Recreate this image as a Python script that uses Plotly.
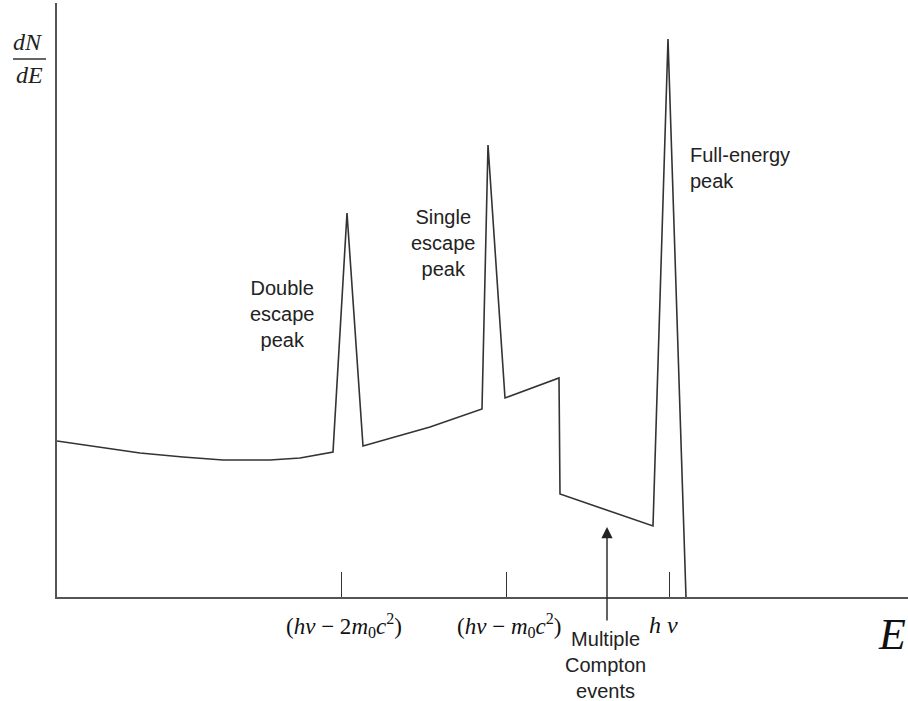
import plotly.graph_objects as go

W, H = 908, 701

# Spectrum (energy in arbitrary units, counts in arbitrary units)
energy = [0, 43, 83, 126, 166, 213, 243, 276, 290, 306, 373, 425, 431, 448, 502, 503, 596, 611, 629]
counts = [156, 150, 144, 140, 137, 137, 139, 145, 384, 151, 170, 188, 452, 199, 219, 103, 71, 558, 0]

# Marked energies on the axis
tick_energy = [284, 449, 612]
tick_labels = [
    "(<i>hν</i> − 2<i>m</i><sub>0</sub><i>c</i><sup>2</sup>)",
    "(<i>hν</i> − <i>m</i><sub>0</sub><i>c</i><sup>2</sup>)",
    "<i>h ν</i>",
]
compton_energy = 550

# peak labels
peak_labels = ["Double<br>escape<br>peak", "Single<br>escape<br>peak", "Full-energy<br>peak"]

X0, XEND = 57, 908     # pixel x of axis origin, right end
Y0, YTOP = 597, 3      # pixel y of axis origin, top end
xr = [0, XEND - X0]
yr = [0, Y0 - YTOP]

def px(x):
    return x / W
def py(y):
    return 1 - y / H

fig = go.Figure()
fig.add_trace(go.Scatter(x=energy, y=counts, mode="lines",
                         line=dict(color="#333333", width=1.6),
                         hoverinfo="skip", showlegend=False, cliponaxis=False))

fig.update_layout(
    width=W, height=H,
    margin=dict(l=0, r=0, t=0, b=0),
    paper_bgcolor="white", plot_bgcolor="white",
    xaxis=dict(domain=[X0 / W, 1], range=xr, showgrid=False, zeroline=False,
               showline=True, linecolor="#555555", linewidth=1.5,
               ticks="inside", ticklen=25, tickwidth=1.3, tickcolor="#333333",
               tickvals=tick_energy, showticklabels=False),
    yaxis=dict(domain=[1 - Y0 / H, 1 - YTOP / H], range=yr, showgrid=False, zeroline=False,
               showline=True, linecolor="#555555", linewidth=1.5,
               showticklabels=False, ticks=""),
)

serif = "Liberation Serif, Times New Roman, serif"
sans = "Liberation Sans, Arial, sans-serif"

ann = []
# tick labels
label_px = [(344, 625, 23), (509, 625, 23), (663, 625, 24)]
for (lx, ly, fs), t in zip(label_px, tick_labels):
    ann.append(dict(x=px(lx), y=py(ly), xref="paper", yref="paper", text=t, showarrow=False,
                    font=dict(family=serif, size=fs, color="#111111"),
                    xanchor="center", yanchor="middle"))

# E label
ann.append(dict(x=px(892), y=py(634), xref="paper", yref="paper", text="<i>E</i>", showarrow=False,
                font=dict(family=serif, size=44, color="#111111"), xanchor="center", yanchor="middle"))

# dN/dE
ann.append(dict(x=px(28), y=py(42), xref="paper", yref="paper", text="<i>dN</i>", showarrow=False,
                font=dict(family=serif, size=24, color="#222222"), xanchor="center", yanchor="middle"))
ann.append(dict(x=px(29), y=py(75), xref="paper", yref="paper", text="<i>dE</i>", showarrow=False,
                font=dict(family=serif, size=24, color="#222222"), xanchor="center", yanchor="middle"))

# peak labels
peak_pos = [(282, 314, "center"), (443, 243, "center"), (688, 168, "left")]
for (lx, ly, al), t in zip(peak_pos, peak_labels):
    ann.append(dict(x=px(lx), y=py(ly), xref="paper", yref="paper", text=t, showarrow=False,
                    font=dict(family=sans, size=20, color="#222222"), align=al,
                    xanchor="left" if al == "left" else "center", yanchor="middle"))

# Multiple Compton events
ann.append(dict(x=px(605), y=py(665), xref="paper", yref="paper",
                text="Multiple<br>Compton<br>events", showarrow=False,
                font=dict(family=sans, size=20, color="#222222"), align="center",
                xanchor="center", yanchor="middle"))
# arrow
ann.append(dict(x=compton_energy, y=Y0 - 527, xref="x", yref="y",
                ax=compton_energy, ay=Y0 - 622, axref="x", ayref="y",
                text="", showarrow=True, arrowhead=2, arrowsize=1.6, arrowwidth=1.4,
                arrowcolor="#222222"))

fig.update_layout(annotations=ann)

fig.add_shape(type="line", xref="paper", yref="paper",
              x0=px(13), x1=px(46), y0=py(59), y1=py(59),
              line=dict(color="#333333", width=1.3))

fig.write_html("out.html", config={"displayModeBar": False},
               post_script="document.body.style.margin='0px';document.body.style.overflow='hidden';")
